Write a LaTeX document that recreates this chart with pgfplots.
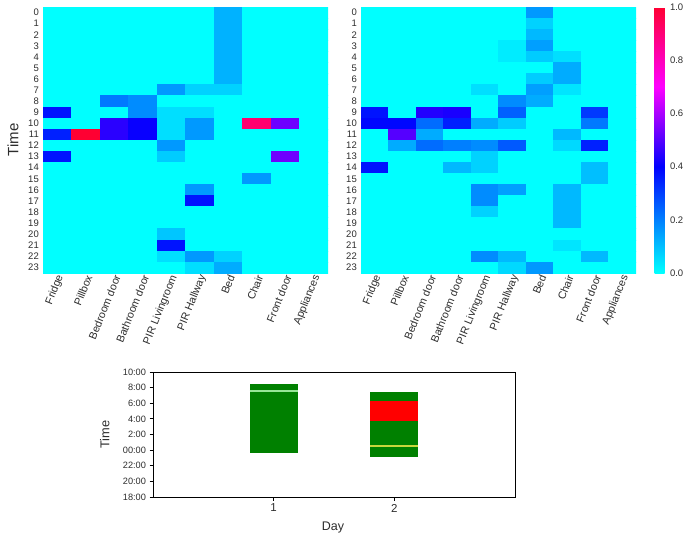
\documentclass[border=0pt]{standalone}
\usepackage{pgfplots}
\usepackage{pgfplotstable}
\pgfplotsset{compat=1.18}
\usepackage{fontspec}
\setmainfont{Liberation Sans}
\setsansfont{Liberation Sans}

\definecolor{txt}{RGB}{45,45,45}
\definecolor{mgreen}{RGB}{0,128,0}
\definecolor{lgreen}{RGB}{150,230,150}
\definecolor{ylw}{RGB}{200,215,60}

% heatmap values, one line per hour (0..23), sensors in column order
\pgfplotstableread[row sep=\\]{
c\\
0\\0\\0\\0\\0\\0\\0.12\\0\\0\\0\\
0\\0\\0\\0\\0\\0\\0.12\\0\\0\\0\\
0\\0\\0\\0\\0\\0\\0.12\\0\\0\\0\\
0\\0\\0\\0\\0\\0\\0.12\\0\\0\\0\\
0\\0\\0\\0\\0\\0\\0.12\\0\\0\\0\\
0\\0\\0\\0\\0\\0\\0.12\\0\\0\\0\\
0\\0\\0\\0\\0\\0\\0.12\\0\\0\\0\\
0\\0\\0\\0\\0.16\\0.07\\0.07\\0\\0\\0\\
0\\0\\0.21\\0.18\\0\\0\\0\\0\\0\\0\\
0.37\\0\\0\\0.18\\0.05\\0.05\\0\\0\\0\\0\\
0\\0\\0.45\\0.41\\0.05\\0.16\\0\\0.91\\0.53\\0\\
0.35\\1\\0.45\\0.41\\0.05\\0.16\\0\\0\\0\\0\\
0\\0\\0\\0\\0.16\\0\\0\\0\\0\\0\\
0.37\\0\\0\\0\\0.08\\0\\0\\0\\0.53\\0\\
0\\0\\0\\0\\0\\0\\0\\0\\0\\0\\
0\\0\\0\\0\\0\\0\\0\\0.16\\0\\0\\
0\\0\\0\\0\\0\\0.16\\0\\0\\0\\0\\
0\\0\\0\\0\\0\\0.37\\0\\0\\0\\0\\
0\\0\\0\\0\\0\\0\\0\\0\\0\\0\\
0\\0\\0\\0\\0\\0\\0\\0\\0\\0\\
0\\0\\0\\0\\0.09\\0\\0\\0\\0\\0\\
0\\0\\0\\0\\0.37\\0\\0\\0\\0\\0\\
0\\0\\0\\0\\0.05\\0.16\\0.07\\0\\0\\0\\
0\\0\\0\\0\\0\\0.05\\0.13\\0\\0\\0\\
}\dayone

\pgfplotstableread[row sep=\\]{
c\\
0\\0\\0\\0\\0\\0\\0.16\\0\\0\\0\\
0\\0\\0\\0\\0\\0\\0.07\\0\\0\\0\\
0\\0\\0\\0\\0\\0\\0.11\\0\\0\\0\\
0\\0\\0\\0\\0\\0.03\\0.15\\0\\0\\0\\
0\\0\\0\\0\\0\\0.03\\0.08\\0.05\\0\\0\\
0\\0\\0\\0\\0\\0\\0\\0.13\\0\\0\\
0\\0\\0\\0\\0\\0\\0.08\\0.13\\0\\0\\
0\\0\\0\\0\\0.05\\0\\0.15\\0.04\\0\\0\\
0\\0\\0\\0\\0\\0.18\\0.13\\0\\0\\0\\
0.37\\0\\0.44\\0.43\\0\\0.25\\0\\0\\0.31\\0\\
0.39\\0.39\\0.23\\0.35\\0.13\\0.08\\0\\0\\0.21\\0\\
0\\0.5\\0.13\\0\\0\\0\\0\\0.11\\0\\0\\
0\\0.13\\0.23\\0.2\\0.18\\0.26\\0\\0.06\\0.35\\0\\
0\\0\\0\\0\\0.07\\0\\0\\0\\0\\0\\
0.37\\0\\0\\0.11\\0.07\\0\\0\\0\\0.1\\0\\
0\\0\\0\\0\\0\\0\\0\\0\\0.1\\0\\
0\\0\\0\\0\\0.18\\0.15\\0\\0.11\\0\\0\\
0\\0\\0\\0\\0.18\\0\\0\\0.11\\0\\0\\
0\\0\\0\\0\\0.07\\0\\0\\0.11\\0\\0\\
0\\0\\0\\0\\0\\0\\0\\0.11\\0\\0\\
0\\0\\0\\0\\0\\0\\0\\0\\0\\0\\
0\\0\\0\\0\\0\\0\\0\\0.04\\0\\0\\
0\\0\\0\\0\\0.18\\0.11\\0\\0\\0.11\\0\\
0\\0\\0\\0\\0\\0.06\\0.16\\0\\0\\0\\
}\daytwo

\pgfplotsset{
  every tick label/.append style={text=txt, /pgf/number format/assume math mode=true},
  heat/.style={
    scale only axis, height=266bp,
    xmin=-0.5, xmax=9.5, ymin=-0.5, ymax=23.5, y dir=reverse,
    enlargelimits=false, axis line style={draw=none}, major tick length=0pt,
    colormap={hm}{rgb255(0cm)=(0,255,255) rgb255(4cm)=(0,0,255) rgb255(7cm)=(255,0,255) rgb255(10cm)=(255,0,50)},
    point meta min=0, point meta max=1,
    xtick={0,...,9}, ytick={0,...,23},
    xticklabels={Fridge,Pillbox,Bedroom door,Bathroom door,PIR Livingroom,PIR Hallway,Bed,Chair,Front door,Appliances},
    xticklabel style={font=\fontsize{10.8bp}{12bp}\selectfont, rotate=68, anchor=east, inner sep=1bp, yshift=-4bp},
    yticklabel style={font=\fontsize{9.5bp}{11bp}\selectfont, inner sep=1bp, xshift=-3bp},
  },
}

\begin{document}
\begin{tikzpicture}
\path[use as bounding box] (0,0) rectangle (689bp,-539bp);

\begin{axis}[heat, at={(43bp,-7bp)}, anchor=north west, width=285bp,
  ylabel={Time}, ylabel style={at={(axis description cs:-0.105,0.5)}, anchor=center, font=\fontsize{15bp}{17bp}\selectfont, text=txt}]
\addplot[matrix plot*, mesh/cols=10, point meta=explicit]
  table[x index=0, y index=0, meta index=0,
        x expr={\coordindex-10*floor((\coordindex+0.5)/10)},
        y expr={floor((\coordindex+0.5)/10)}] {\dayone};
\end{axis}

\begin{axis}[heat, at={(361bp,-7bp)}, anchor=north west, width=275bp,
  colorbar,
  colorbar style={at={(parent axis.north east)}, anchor=north west, xshift=10bp, width=10bp,
    axis line style={draw=none}, major tick length=0pt,
    ytick={0,0.2,0.4,0.6,0.8,1},
    yticklabel style={font=\fontsize{9.5bp}{11bp}\selectfont, text=txt, xshift=2bp,
      /pgf/number format/.cd, fixed, fixed zerofill, precision=1, assume math mode=true}}]
\addplot[matrix plot*, mesh/cols=10, point meta=explicit]
  table[x index=0, y index=0, meta index=0,
        x expr={\coordindex-10*floor((\coordindex+0.5)/10)},
        y expr={floor((\coordindex+0.5)/10)}] {\daytwo};
\end{axis}

% hours counted from 18:00 of the previous day
\begin{axis}[at={(153bp,-372bp)}, anchor=north west, scale only axis,
  width=362bp, height=125bp,
  xmin=0, xmax=3, ymin=0, ymax=16,
  xtick={1,2}, ytick={0,2,...,16},
  yticklabels={18:00,20:00,22:00,00:00,2:00,4:00,6:00,8:00,10:00},
  xtick pos=bottom, ytick pos=left, tick align=outside,
  major tick length=3.5bp, tick style={black, line width=0.8bp},
  axis line style={black, line width=0.9bp},
  xticklabel style={font=\fontsize{11.5bp}{13bp}\selectfont},
  yticklabel style={font=\fontsize{9.2bp}{11bp}\selectfont},
  xlabel={Day}, ylabel={Time},
  xlabel style={at={(axis description cs:0.497,-0.24)}, anchor=center, font=\fontsize{12.5bp}{14bp}\selectfont, text=txt},
  ylabel style={at={(axis description cs:-0.133,0.5)}, anchor=center, font=\fontsize{12.8bp}{14bp}\selectfont, text=txt},
]
\addplot[fill=mgreen, draw=none] coordinates {(0.8,5.69) (1.2,5.69) (1.2,14.52) (0.8,14.52)} -- cycle;
\addplot[lgreen, line width=1.8bp] coordinates {(0.8,13.57) (1.2,13.57)};
\addplot[fill=mgreen, draw=none] coordinates {(1.8,5.06) (2.2,5.06) (2.2,13.38) (1.8,13.38)} -- cycle;
\addplot[fill=red, draw=none] coordinates {(1.8,9.7) (2.2,9.7) (2.2,12.26) (1.8,12.26)} -- cycle;
\addplot[ylw, line width=1.8bp] coordinates {(1.8,6.54) (2.2,6.54)};
\end{axis}
\end{tikzpicture}
\end{document}
